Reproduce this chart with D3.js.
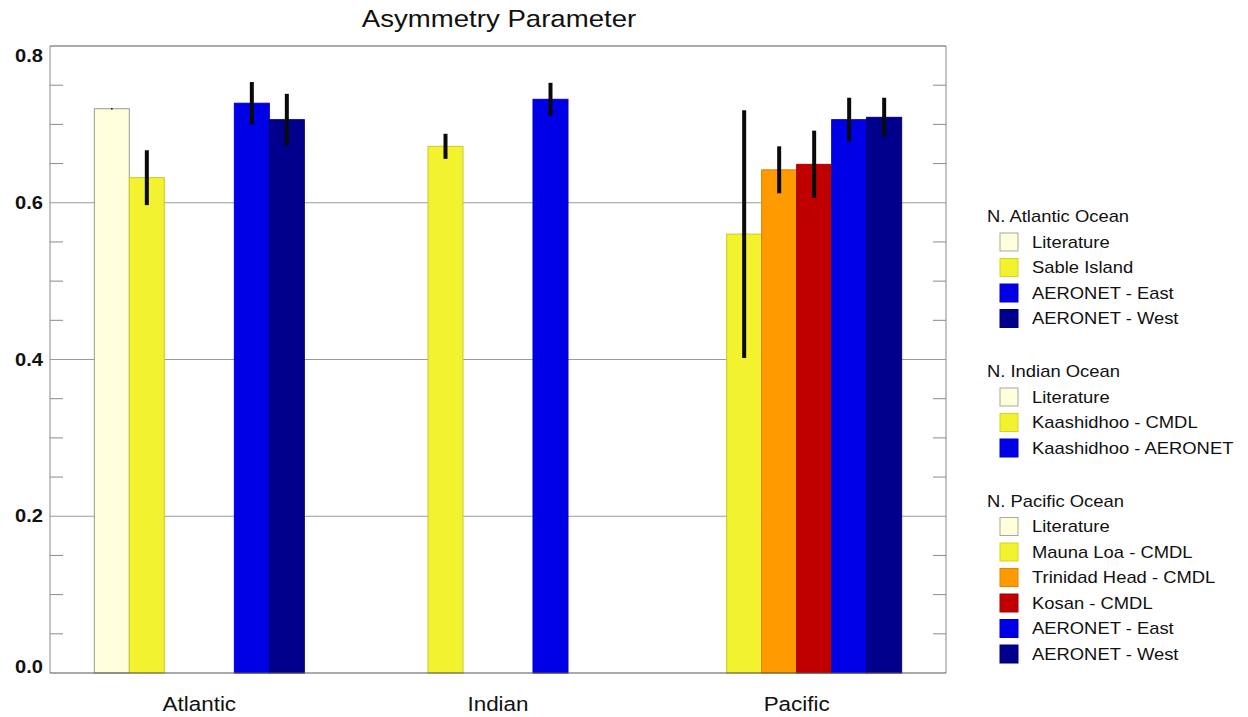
<!DOCTYPE html>
<html>
<head>
<meta charset="utf-8">
<script src="https://cdn.jsdelivr.net/npm/d3@7"></script>
<style>
  html, body { margin: 0; padding: 0; background: #fff; }
  svg { display: block; font-family: "Liberation Sans", Arial, Helvetica, sans-serif; }
</style>
</head>
<body>
<svg id="chart" width="1248" height="717"></svg>
<script>
// ---------------- data ----------------
const regions = ["Atlantic", "Indian", "Pacific"];
const seriesNames = ["Literature", "Surface CMDL", "Trinidad Head", "Kosan", "AERONET East", "AERONET West"];
const seriesColors = ["#FFFFDC", "#F2F22E", "#FF9A00", "#C00000", "#0000E6", "#00008C"];

// values per region (Atlantic, Indian, Pacific); null = no bar
const literature   = [0.720, null,  null];
const surfaceCMDL  = [0.632, 0.672, 0.560];
const trinidadHead = [null,  null,  0.642];
const kosan        = [null,  null,  0.649];
const aeronetEast  = [0.727, 0.732, 0.706];
const aeronetWest  = [0.706, null,  0.709];

// error-bar half widths
const literatureErr   = [0.001, null,  null];
const surfaceCMDLErr  = [0.035, 0.016, 0.158];
const trinidadHeadErr = [null,  null,  0.030];
const kosanErr        = [null,  null,  0.043];
const aeronetEastErr  = [0.027, 0.021, 0.028];
const aeronetWestErr  = [0.033, null,  0.025];

const yTicks = [0.0, 0.2, 0.4, 0.6, 0.8];
const yTickLabels = ["0.0", "0.2", "0.4", "0.6", "0.8"];
const yMinorStep = 0.05;

const chartTitle = "Asymmetry Parameter";

const legendGroups = [
  { title: "N. Atlantic Ocean", items: [["Literature", 0], ["Sable Island", 1], ["AERONET - East", 4], ["AERONET - West", 5]] },
  { title: "N. Indian Ocean",   items: [["Literature", 0], ["Kaashidhoo - CMDL", 1], ["Kaashidhoo - AERONET", 4]] },
  { title: "N. Pacific Ocean",  items: [["Literature", 0], ["Mauna Loa - CMDL", 1], ["Trinidad Head - CMDL", 2], ["Kosan - CMDL", 3], ["AERONET - East", 4], ["AERONET - West", 5]] }
];

const seriesValues = [literature, surfaceCMDL, trinidadHead, kosan, aeronetEast, aeronetWest];
const seriesErrors = [literatureErr, surfaceCMDLErr, trinidadHeadErr, kosanErr, aeronetEastErr, aeronetWestErr];

// ---------------- layout ----------------
(function () {
const svg = d3.select("#chart");
const pL = 50, pR = 946, pT = 46, pB = 673;
const SX = 1.15; // horizontal text stretch of the reference

const x0 = d3.scaleBand().domain(regions).range([pL, pR]).paddingInner(0).paddingOuter(0);
const groupW = 210;
const x1 = d3.scaleBand().domain(d3.range(seriesNames.length)).range([0, groupW]).padding(0);
const y = d3.scaleLinear().domain([0, 0.8]).range([pB, pT]);

function stretchedText(g, x, yy, txt, opts) {
  return g.append("text")
    .attr("transform", `translate(${x},${yy}) scale(${SX},1)`)
    .attr("text-anchor", opts.anchor || "start")
    .attr("font-size", opts.size)
    .attr("font-weight", opts.weight || "normal")
    .attr("fill", opts.fill || "#111")
    .text(txt);
}

// gridlines (major) across the plot
svg.append("g").selectAll("line").data(yTicks.filter(t => t > 0))
  .join("line")
  .attr("x1", pL).attr("x2", pR)
  .attr("y1", d => y(d)).attr("y2", d => y(d))
  .attr("stroke", "#9a9a9a").attr("stroke-width", 1);

// minor ticks on left and right
const minor = d3.range(0, 0.8 + 1e-9, yMinorStep).filter(v => !yTicks.some(t => Math.abs(t - v) < 1e-6));
const mt = svg.append("g");
mt.selectAll("line.l").data(minor).join("line").attr("class", "l")
  .attr("x1", pL).attr("x2", pL + 13)
  .attr("y1", d => y(d)).attr("y2", d => y(d))
  .attr("stroke", "#8a8a8a").attr("stroke-width", 1);
mt.selectAll("line.r").data(minor).join("line").attr("class", "r")
  .attr("x1", pR - 13).attr("x2", pR)
  .attr("y1", d => y(d)).attr("y2", d => y(d))
  .attr("stroke", "#8a8a8a").attr("stroke-width", 1);

// frame: left, right, top
svg.append("line").attr("x1", pL).attr("x2", pL).attr("y1", pT).attr("y2", pB).attr("stroke", "#8a8a8a");
svg.append("line").attr("x1", pR).attr("x2", pR).attr("y1", pT).attr("y2", pB).attr("stroke", "#8a8a8a");
svg.append("line").attr("x1", pL).attr("x2", pR).attr("y1", pT).attr("y2", pT).attr("stroke", "#8a8a8a");

// bars
const barData = [];
regions.forEach((r, ri) => {
  seriesValues.forEach((vals, si) => {
    if (vals[ri] != null) barData.push({ region: r, s: si, v: vals[ri], e: seriesErrors[si][ri] });
  });
});
const gx = r => x0(r) + (x0.bandwidth() - groupW) / 2;

svg.append("g").selectAll("rect").data(barData).join("rect")
  .attr("x", d => gx(d.region) + x1(d.s))
  .attr("width", x1.bandwidth())
  .attr("y", d => y(d.v))
  .attr("height", d => y(0) - y(d.v))
  .attr("fill", d => seriesColors[d.s])
  .attr("stroke", d => d.s === 0 ? "#9a9a90" : d3.color(seriesColors[d.s]).darker(0.5))
  .attr("stroke-width", 1);

// bottom axis line
svg.append("line").attr("x1", pL).attr("x2", pR).attr("y1", pB).attr("y2", pB)
  .attr("stroke", "#555").attr("stroke-width", 1.2);

// error bars
svg.append("g").selectAll("line").data(barData.filter(d => d.e != null)).join("line")
  .attr("x1", d => gx(d.region) + x1(d.s) + x1.bandwidth() / 2)
  .attr("x2", d => gx(d.region) + x1(d.s) + x1.bandwidth() / 2)
  .attr("y1", d => y(d.v + d.e))
  .attr("y2", d => y(d.v - d.e))
  .attr("stroke", "#0a0a0a")
  .attr("stroke-width", d => d.e < 0.005 ? 1.5 : 4)
  .attr("stroke-linecap", "butt");

// y tick labels
const yl = svg.append("g");
yTicks.forEach((t, i) => {
  const cy = Math.min(Math.max(y(t), pT + 10), pB - 6);
  stretchedText(yl, 43, cy + 6, yTickLabels[i], { anchor: "end", size: 17.5, weight: "bold" });
});

// x labels
const xl = svg.append("g");
regions.forEach(r => {
  stretchedText(xl, x0(r) + x0.bandwidth() / 2, 711, r, { anchor: "middle", size: 19.5 });
});

// title
stretchedText(svg, 499, 27, chartTitle, { anchor: "middle", size: 24 });

// legend
const lg = svg.append("g");
let ly = 222;
const rowH = 25.5;
legendGroups.forEach((grp) => {
  stretchedText(lg, 987, ly, grp.title, { size: 16 });
  grp.items.forEach(([label, si]) => {
    ly += rowH;
    lg.append("rect")
      .attr("x", 1000).attr("y", ly - 14.5)
      .attr("width", 18).attr("height", 18)
      .attr("fill", seriesColors[si])
      .attr("stroke", si === 0 ? "#a8a8a0" : d3.color(seriesColors[si]).darker(0.4))
      .attr("stroke-width", 1);
    stretchedText(lg, 1032, ly, label, { size: 16 });
  });
  ly += 53;
});
})();
</script>
</body>
</html>
